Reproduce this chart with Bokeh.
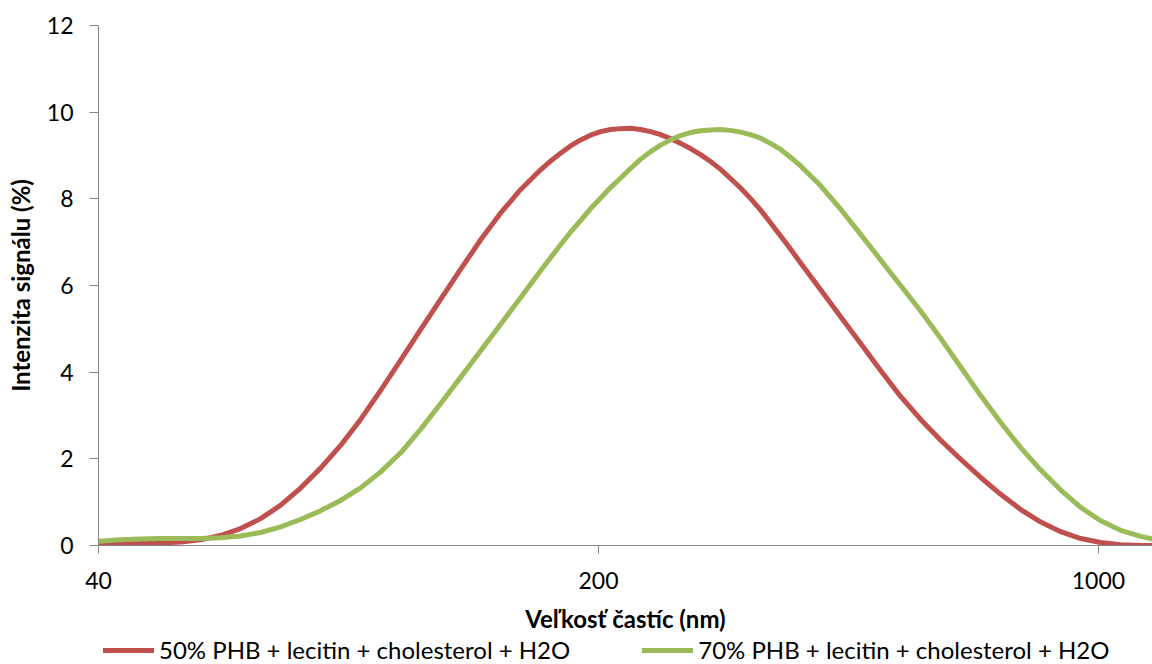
from bokeh.plotting import figure
from bokeh.layouts import column
from bokeh.models import Range1d, FixedTicker, Legend, LegendItem
from bokeh.embed import file_html
from bokeh.resources import INLINE

# Particle size (nm)
sizes_nm = [40.0, 42.9, 45.8, 48.8, 52.1, 55.5, 59.2, 63.2, 67.4, 71.9,
            76.6, 81.7, 87.2, 93.0, 99.2, 105.8, 112.8, 120.3, 128.3, 136.8,
            145.9, 155.6, 166.0, 171.4, 177.0, 182.8, 188.8, 194.9, 201.4, 207.9,
            214.8, 221.7, 229.0, 236.5, 244.3, 252.2, 260.5, 268.9, 277.8, 286.9,
            296.3, 305.9, 316.0, 326.2, 337.1, 347.9, 359.5, 371.1, 383.4, 408.9,
            436.1, 465.1, 496.0, 529.0, 564.2, 601.8, 641.8, 684.5, 730.0, 778.6,
            830.4, 885.6, 944.5, 1007.0, 1074.0, 1146.0, 1190.0]

# Signal intensity (%), 50% PHB sample
intensity_50 = [0.03, 0.04, 0.05, 0.06, 0.08, 0.13, 0.23, 0.39, 0.62, 0.93,
                1.32, 1.78, 2.31, 2.91, 3.58, 4.28, 4.98, 5.68, 6.37, 7.05,
                7.67, 8.21, 8.67, 8.87, 9.05, 9.22, 9.36, 9.47, 9.55, 9.60,
                9.62, 9.63, 9.60, 9.55, 9.48, 9.39, 9.28, 9.16, 9.02, 8.86,
                8.68, 8.47, 8.25, 8.01, 7.74, 7.45, 7.14, 6.84, 6.52, 5.90,
                5.28, 4.66, 4.04, 3.44, 2.91, 2.43, 1.99, 1.57, 1.18, 0.83,
                0.54, 0.32, 0.16, 0.07, 0.02, 0.00, 0.00]

# Signal intensity (%), 70% PHB sample
intensity_70 = [0.10, 0.13, 0.15, 0.16, 0.16, 0.16, 0.18, 0.22, 0.30, 0.43,
                0.60, 0.80, 1.04, 1.33, 1.70, 2.14, 2.68, 3.27, 3.88, 4.49,
                5.10, 5.72, 6.34, 6.64, 6.94, 7.23, 7.50, 7.77, 8.02, 8.26,
                8.48, 8.70, 8.91, 9.09, 9.24, 9.36, 9.46, 9.53, 9.57, 9.59,
                9.60, 9.58, 9.54, 9.48, 9.40, 9.28, 9.14, 8.96, 8.76, 8.30,
                7.76, 7.18, 6.59, 6.00, 5.41, 4.78, 4.12, 3.46, 2.84, 2.26,
                1.74, 1.28, 0.88, 0.57, 0.35, 0.21, 0.15]

series_names = ["50% PHB + lecitin + cholesterol + H2O",
                "70% PHB + lecitin + cholesterol + H2O"]
x_ticks = [40, 200, 1000]
x_tick_labels = ["40", "200", "1000"]
y_ticks = [0, 2, 4, 6, 8, 10, 12]
x_title = "Veľkosť častíc (nm)"
y_title = "Intenzita signálu (%)"

assert len(sizes_nm) == len(intensity_50) == len(intensity_70)

RED = "#C0504D"
GREEN = "#9BBB59"
AXIS = "#868686"
FONT = "Lato"
LINE_W = 5

# ---------------- main chart ----------------
p = figure(width=1152, height=635, x_axis_type="log",
           x_range=Range1d(40, 1190), y_range=Range1d(0, 12),
           output_backend="svg", toolbar_location=None,
           min_border_left=98, min_border_right=0,
           min_border_top=25, min_border_bottom=88)

p.xgrid.visible = False
p.ygrid.visible = False
p.outline_line_color = None
p.background_fill_color = "white"
p.border_fill_color = "white"

p.line(sizes_nm, intensity_50, line_color=RED, line_width=LINE_W,
       line_cap="round", line_join="round")
p.line(sizes_nm, intensity_70, line_color=GREEN, line_width=LINE_W,
       line_cap="round", line_join="round")

for ax in (p.xaxis[0], p.yaxis[0]):
    ax.axis_line_color = AXIS
    ax.axis_line_width = 1
    ax.major_tick_line_color = AXIS
    ax.major_tick_line_width = 1
    ax.minor_tick_line_color = None
    ax.major_tick_in = 0
    ax.major_label_text_font = FONT
    ax.major_label_text_font_size = "23px"
    ax.major_label_text_color = "black"
    ax.axis_label_text_font = FONT
    ax.axis_label_text_font_size = "24px"
    ax.axis_label_text_font_style = "bold"
    ax.axis_label_text_color = "black"

xa = p.xaxis[0]
xa.ticker = FixedTicker(ticks=x_ticks)
xa.major_label_overrides = {t: l for t, l in zip(x_ticks, x_tick_labels)}
xa.major_tick_out = 8
xa.major_label_standoff = 18
xa.axis_label = x_title
xa.axis_label_standoff = 12

ya = p.yaxis[0]
ya.ticker = FixedTicker(ticks=y_ticks)
ya.major_tick_out = 9
ya.major_label_standoff = 16
ya.axis_label = y_title
ya.axis_label_standoff = 9

# ---------------- legend strip ----------------
lg = figure(width=1152, height=29, x_range=Range1d(0, 1), y_range=Range1d(0, 1),
            output_backend="svg", toolbar_location=None,
            x_axis_location=None, y_axis_location=None,
            min_border=0, min_border_left=0, min_border_right=0,
            min_border_top=0, min_border_bottom=0)
lg.xgrid.visible = False
lg.ygrid.visible = False
lg.outline_line_color = None
lg.background_fill_color = "white"
lg.border_fill_color = "white"

# same series, drawn outside this strip's range so that only the legend keys show
k1 = lg.line(sizes_nm, intensity_50, line_color=RED, line_width=LINE_W, line_cap="round")
k2 = lg.line(sizes_nm, intensity_70, line_color=GREEN, line_width=LINE_W, line_cap="round")

legend = Legend(items=[LegendItem(label=series_names[0], renderers=[k1]),
                       LegendItem(label=series_names[1], renderers=[k2])],
                location=(5, 0), orientation="horizontal",
                glyph_width=51, glyph_height=20, label_standoff=5,
                label_width=400, spacing=72,
                padding=0, margin=0, border_line_color=None,
                background_fill_alpha=0, label_text_font=FONT,
                label_text_font_size="24px", label_text_color="black")
lg.add_layout(legend)

layout = column(p, lg, spacing=0)
open("out.html", "w").write(file_html(layout, INLINE))
